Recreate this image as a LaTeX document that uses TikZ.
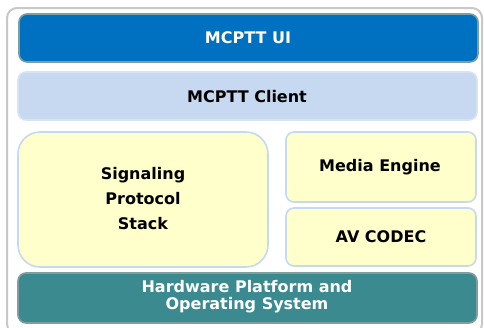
\documentclass[tikz,border=0pt]{standalone}
\usepackage{fontspec}
\setmainfont{DejaVu Sans}
\begin{document}
\begin{tikzpicture}[x=1pt,y=-1pt,
  lbl/.style={font=\bfseries\fontsize{16}{17}\selectfont,align=center,inner sep=0pt},
  blk/.style={rounded corners=8pt,line width=1.6pt}]
\definecolor{uiblue}{HTML}{0070C0}
\definecolor{uiedge}{HTML}{7F9F9F}
\definecolor{clientfill}{HTML}{C6D9F0}
\definecolor{clientedge}{HTML}{D6E3F3}
\definecolor{yel}{HTML}{FFFFCC}
\definecolor{teal}{HTML}{3B8A8F}
\definecolor{frame}{HTML}{C8C8C8}
\useasboundingbox (0,0) rectangle (484,327);
\clip (0,0) rectangle (484,327);
\draw[frame,line width=2pt,rounded corners=10pt,fill=white] (7,8) rectangle (482,334);
\draw[blk,draw=uiedge,fill=uiblue] (19,14) rectangle (478,62);
\node[lbl,text=white] (ui) at (248,38) {MCPTT UI};
\draw[blk,draw=clientedge,fill=clientfill] (18,72) rectangle (477,120);
\node[lbl] (client) at (247,97) {MCPTT Client};
\draw[rounded corners=22pt,line width=1.6pt,draw=clientfill,fill=yel] (18,132) rectangle (268,267);
\node[lbl,font=\bfseries\fontsize{16}{25}\selectfont] (sig) at (143,199) {Signaling\\Protocol\\Stack};
\draw[blk,draw=clientfill,fill=yel] (286,132) rectangle (476,202);
\node[lbl] (media) at (380,167) {Media Engine};
\draw[blk,draw=clientfill,fill=yel] (286,208) rectangle (476,266);
\node[lbl] (codec) at (381,237) {AV CODEC};
\draw[blk,draw=uiedge,fill=teal] (18,273) rectangle (477,323);
\node[lbl,text=white] (hw) at (247,297) {Hardware Platform and\\Operating System};
\end{tikzpicture}
\end{document}
